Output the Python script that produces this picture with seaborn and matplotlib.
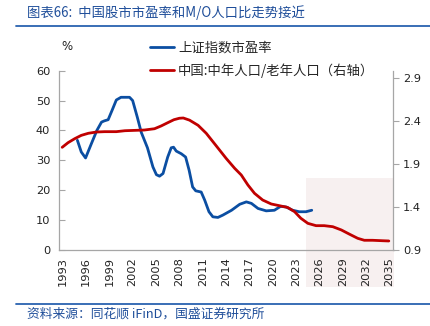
import matplotlib
matplotlib.use("Agg")
import matplotlib.pyplot as plt
import seaborn as sns
import pandas as pd
from matplotlib.lines import Line2D
from matplotlib.patches import Rectangle

# ---- data ----
pe_year = [1995.4, 1995.9, 1996.45, 1997.2, 1997.9, 1998.5, 1998.85, 1999.35, 1999.85,
           2000.4, 2001.0, 2002.1, 2002.5, 2003.1, 2003.6, 2004.4, 2005.1, 2005.55,
           2005.95, 2006.4, 2007.0, 2007.45, 2007.75, 2008.1, 2008.75, 2009.3, 2009.75,
           2010.2, 2010.6, 2011.3, 2011.75, 2012.3, 2012.8, 2013.45, 2014.1, 2015.2,
           2016.25, 2017.1, 2017.75, 2018.6, 2019.65, 2020.7, 2021.5, 2022.2, 2023.05,
           2023.9, 2024.75, 2025.5]
pe_value = [36.7, 32.8, 30.8, 35.6, 40.0, 42.8, 43.2, 43.6, 46.7,
            50.2, 51.1, 51.1, 50.0, 44.4, 39.4, 34.2, 27.8, 25.2,
            24.7, 25.6, 31.1, 34.2, 34.4, 33.1, 32.2, 31.1, 26.7,
            21.1, 19.8, 19.4, 16.7, 12.8, 11.1, 10.9, 11.7, 13.3,
            15.3, 16.1, 15.6, 13.9, 13.1, 13.3, 14.6, 14.4, 13.3,
            12.8, 12.8, 13.3]

mo_year = [1993.45, 1994.2, 1995.05, 1995.9, 1996.8, 1997.85, 1998.9, 2000.4, 2001.5,
           2002.75, 2004.0, 2005.3, 2006.15, 2007.0, 2007.8, 2008.5, 2009.0, 2009.8,
           2010.9, 2011.95, 2013.25, 2014.5, 2015.6, 2016.45, 2017.3, 2018.15, 2019.2,
           2020.3, 2021.35, 2022.4, 2023.3, 2024.1, 2025.0, 2026.05, 2027.1, 2028.2,
           2029.3, 2030.3, 2031.4, 2032.25, 2033.3, 2034.55, 2035.4]
mo_value = [2.094, 2.148, 2.194, 2.233, 2.257, 2.272, 2.276, 2.276, 2.287,
            2.291, 2.295, 2.310, 2.342, 2.380, 2.415, 2.432, 2.435, 2.410,
            2.350, 2.257, 2.109, 1.966, 1.850, 1.772, 1.656, 1.559, 1.481,
            1.435, 1.415, 1.395, 1.345, 1.269, 1.210, 1.183, 1.183, 1.171,
            1.133, 1.086, 1.036, 1.013, 1.013, 1.008, 1.005]

year_ticks = list(range(1993, 2036, 3))
left_ticks = [0, 10, 20, 30, 40, 50, 60]
right_ticks = [0.9, 1.4, 1.9, 2.4, 2.9]

pe_label = "上证指数市盈率"
mo_label = "中国:中年人口/老年人口（右轴）"
title = "图表66:  中国股市市盈率和M/O人口比走势接近"
source = "资料来源：同花顺 iFinD，国盛证券研究所"

BLUE = "#0b4ea2"
RED = "#c00000"
GRAY = "#a6a6a6"
TBLUE = "#1f4e9a"

sns.set_theme(style="white")
plt.rcParams["font.family"] = ["Noto Sans CJK SC", "DejaVu Sans"]

W, H = 431, 326
fig = plt.figure(figsize=(W / 100, H / 100), dpi=100)
L, R, B, T = 58.7, 393.5, 250.0, 70.7
ax = fig.add_axes([L / W, 1 - B / H, (R - L) / W, (B - T) / H])
ax2 = ax.twinx()

pe = pd.DataFrame({"year": pe_year, "value": pe_value})
mo = pd.DataFrame({"year": mo_year, "value": mo_value})

sns.lineplot(data=pe, x="year", y="value", ax=ax, color=BLUE, linewidth=2.0,
             estimator=None, sort=True, legend=False, zorder=3)
sns.lineplot(data=mo, x="year", y="value", ax=ax2, color=RED, linewidth=2.0,
             estimator=None, sort=True, legend=False, zorder=3)

# forecast shading (extends below axis)
ax.add_patch(Rectangle((2024.7, -12.3), 2036 - 2024.7, 24.2 + 12.3,
                       facecolor="#f7f0f0", edgecolor="none", clip_on=False, zorder=0))
ax.patch.set_visible(False)

ax.set_xticks(year_ticks)
ax.set_xticklabels([])
ax.set_xticks([y + 0.5 for y in year_ticks], minor=True)
ax.set_xticklabels([str(y) for y in year_ticks], minor=True, rotation=90,
                   fontsize=8.2, family="DejaVu Sans", color="#222222")
ax.tick_params(axis="x", which="minor", length=0, pad=5)
ax.tick_params(axis="x", which="major", direction="in", length=4, color=GRAY, width=0.8)

ax.set_yticks(left_ticks)
ax.set_yticklabels([str(v) for v in left_ticks], fontsize=8.2, family="DejaVu Sans", color="#222222")
ax.tick_params(axis="y", direction="in", length=4, color=GRAY, width=0.8, pad=6)

ax2.set_yticks(right_ticks)
ax2.set_yticklabels([f"{v:.1f}" for v in right_ticks], fontsize=8.2, family="DejaVu Sans", color="#222222")
ax2.tick_params(axis="y", direction="out", length=4, color=GRAY, width=0.8, pad=3)

ax.set_xlim(1993, 2036)
ax.set_ylim(0, 60)
ax2.set_ylim(0.9, 0.9 + (B - T) * 0.5 / 43.0)

for a in (ax, ax2):
    a.set_xlabel("")
    a.set_ylabel("")
    a.grid(False)
    a.spines["top"].set_visible(False)
ax.spines["right"].set_visible(False)
ax.spines["left"].set_color(GRAY)
ax.spines["bottom"].set_color(GRAY)
ax2.spines["left"].set_visible(False)
ax2.spines["bottom"].set_visible(False)
ax2.spines["right"].set_color(GRAY)
for a in (ax, ax2):
    for s in a.spines.values():
        s.set_linewidth(0.9)

# "%" unit label
fig.text(61 / W, 1 - 47 / H, "%", fontsize=8.5, family="DejaVu Sans", color="#222222",
         ha="left", va="center")

# legend
handles = [Line2D([], [], color=BLUE, lw=2.0), Line2D([], [], color=RED, lw=2.0)]
fig.legend(handles, [pe_label, mo_label], loc="upper left",
           bbox_to_anchor=(150 / W, 1 - 41 / H), frameon=False, fontsize=9.6,
           handlelength=1.8, handletextpad=0.3, labelspacing=0.62, borderpad=0,
           borderaxespad=0)

# title and source
fig.text(27 / W, 1 - 13 / H, title, fontsize=9.6, color=TBLUE, ha="left", va="center")
fig.add_artist(Line2D([16 / W, 1.0], [1 - 25.7 / H, 1 - 25.7 / H], color="#2a62b0", lw=1.3))
fig.add_artist(Line2D([16 / W, 1.0], [1 - 304.3 / H, 1 - 304.3 / H], color="#2a62b0", lw=1.3))
fig.text(27 / W, 1 - 314 / H, source, fontsize=9.2, color=TBLUE, ha="left", va="center")

fig.savefig("out.png", dpi=100)
